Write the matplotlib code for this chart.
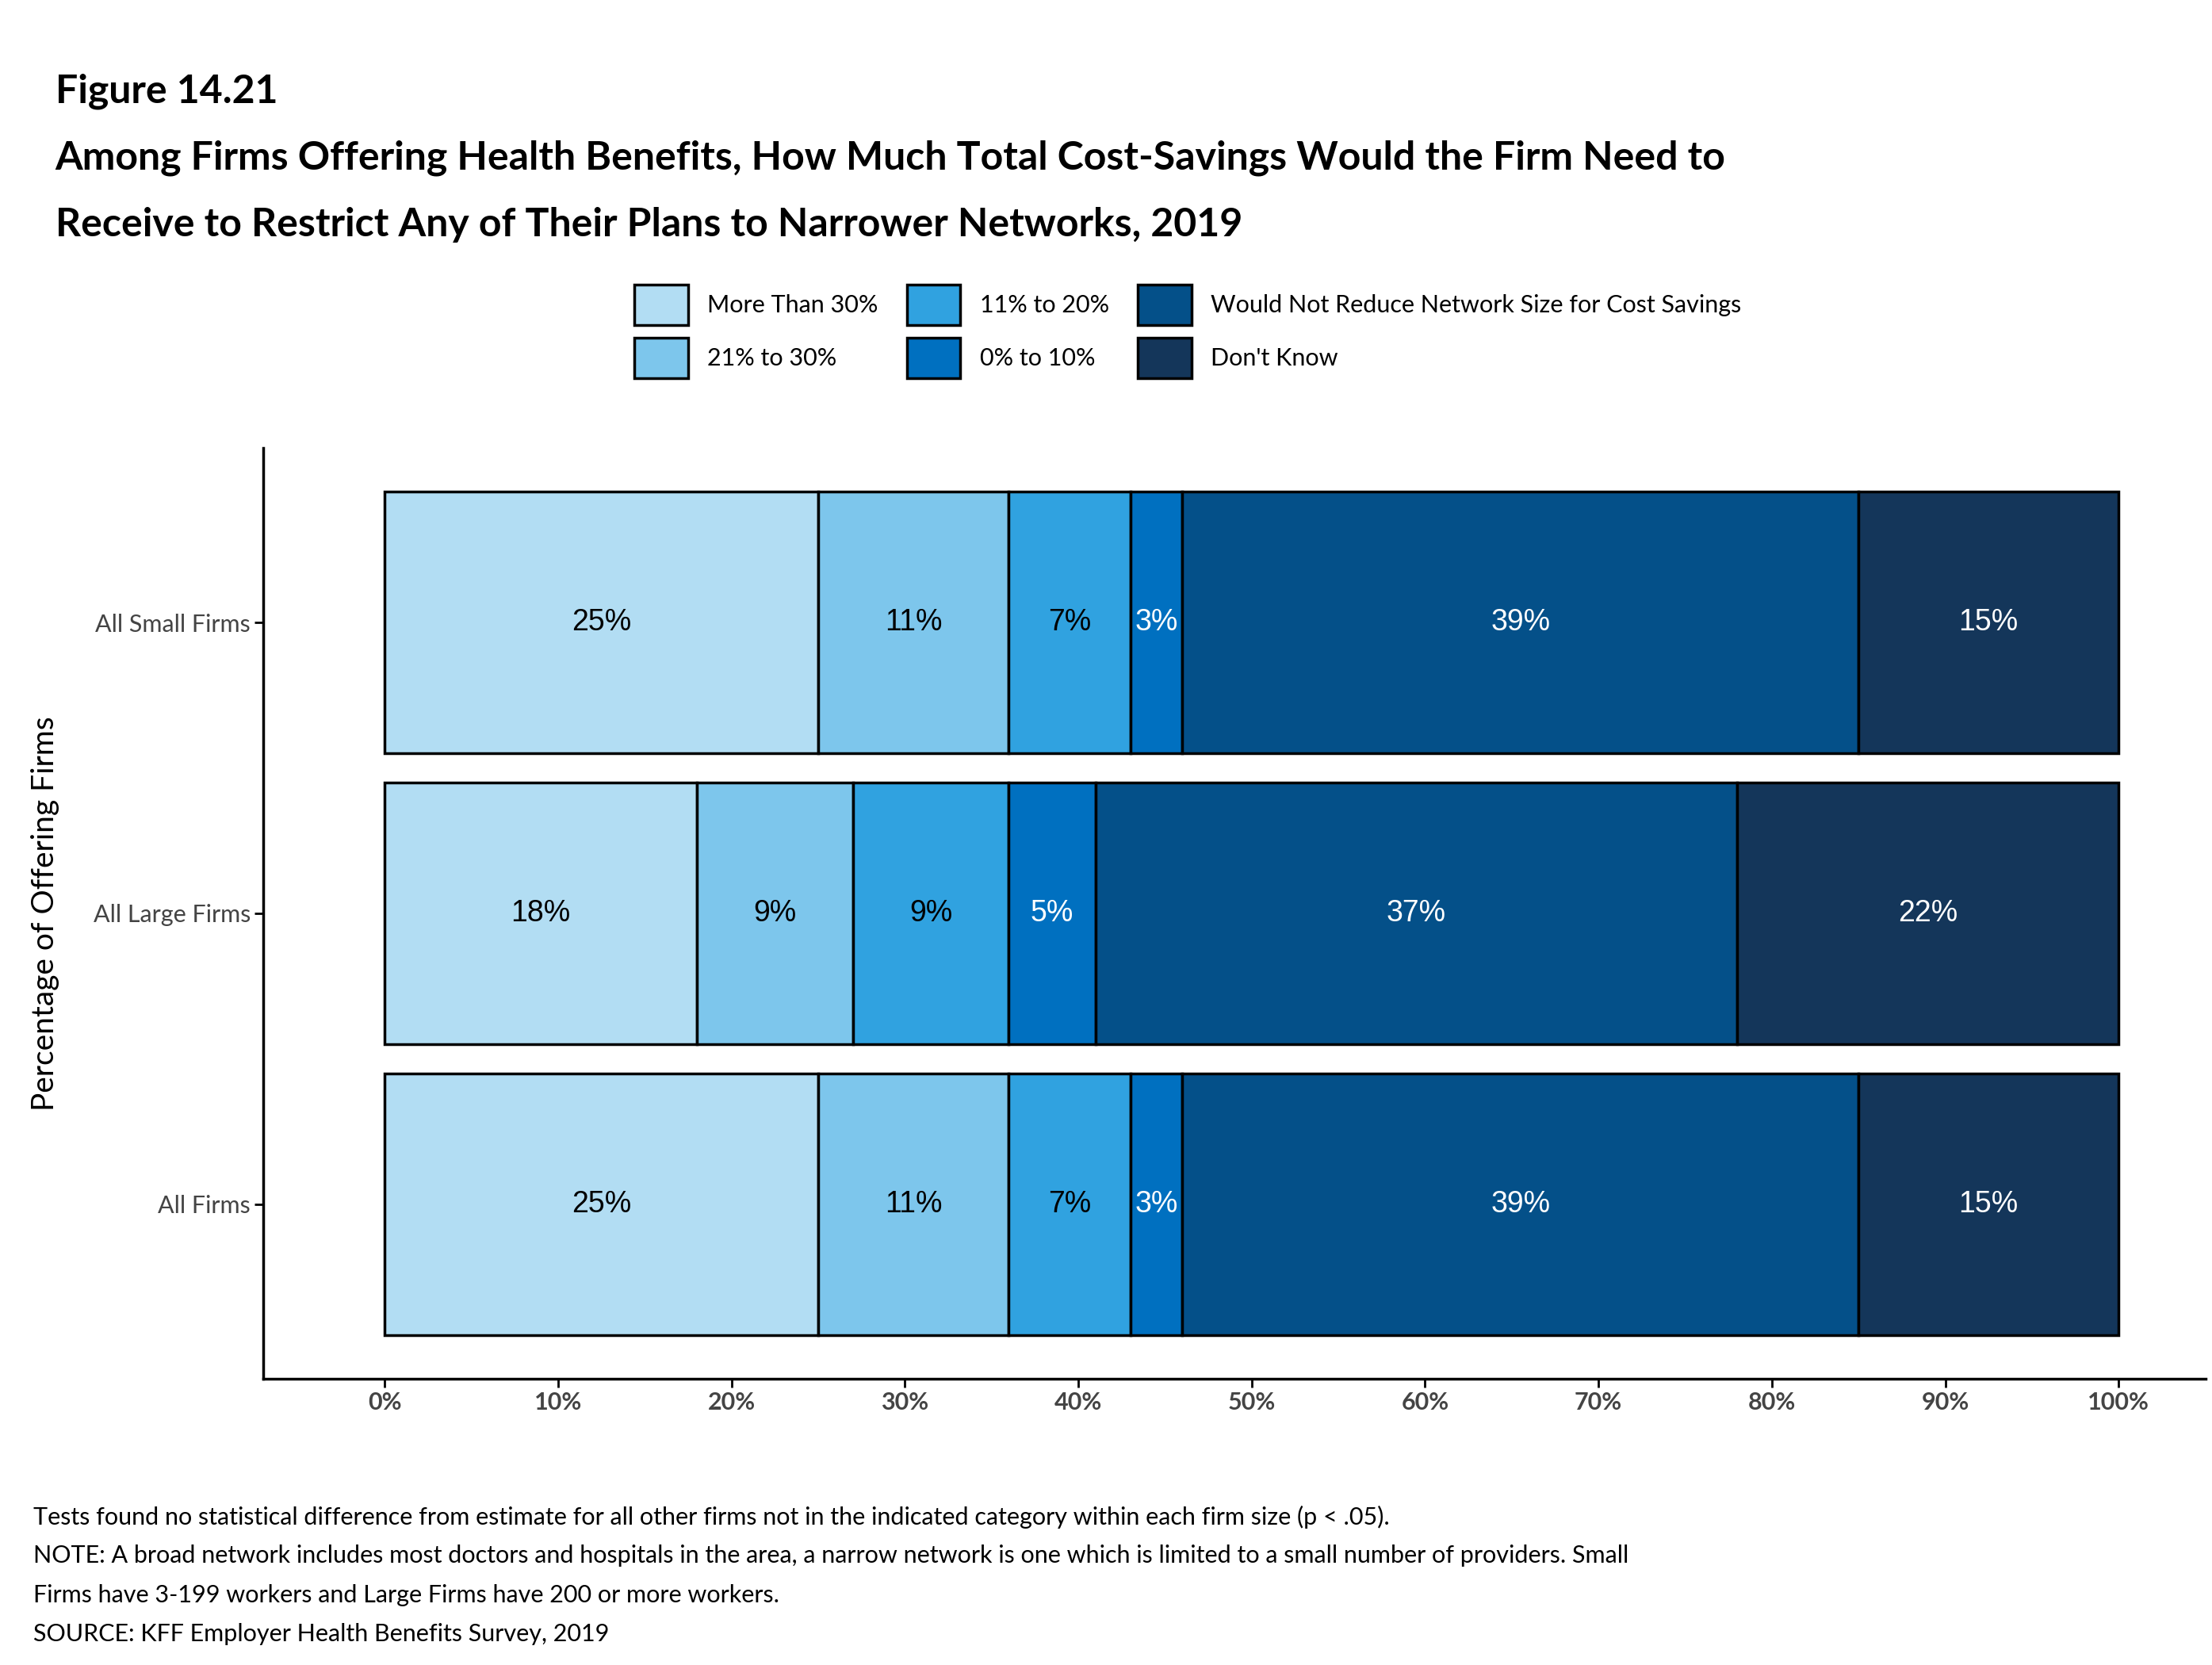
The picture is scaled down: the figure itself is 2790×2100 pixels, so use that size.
import numpy as np
import matplotlib.pyplot as plt
from matplotlib.patches import Patch

plt.rcParams['font.family'] = ['Lato', 'DejaVu Sans']

groups = ['All Firms', 'All Large Firms', 'All Small Firms']
series = ['More Than 30%', '21% to 30%', '11% to 20%', '0% to 10%',
          'Would Not Reduce Network Size for Cost Savings', "Don't Know"]
values = {
    'More Than 30%': [25, 18, 25],
    '21% to 30%': [11, 9, 11],
    '11% to 20%': [7, 9, 7],
    '0% to 10%': [3, 5, 3],
    'Would Not Reduce Network Size for Cost Savings': [39, 37, 39],
    "Don't Know": [15, 22, 15],
}
colors = ['#B2DDF3', '#7DC6EC', '#30A2E0', '#0070C0', '#045089', '#14365A']
text_colors = ['black', 'black', 'black', 'white', 'white', 'white']

fig = plt.figure(figsize=(27.9, 21), dpi=100)
ax = fig.add_axes([0.119, 0.172, 0.878, 0.559])

y = np.arange(len(groups))
left = np.zeros(len(groups))
for s, c, tc in zip(series, colors, text_colors):
    v = np.array(values[s], dtype=float)
    ax.barh(y, v, left=left, height=0.9, color=c, edgecolor='black', linewidth=2.5)
    for yi, vi, li in zip(y, v, left):
        ax.text(li + vi / 2, yi, f'{vi:.0f}%', ha='center', va='center',
                color=tc, fontsize=27, family=['Liberation Sans'])
    left += v

ax.set_xlim(-7, 105)
ax.set_ylim(-0.6, 2.6)
ax.set_yticks(y)
ax.set_yticklabels(groups, fontsize=22, color='#444444')
ax.set_xticks(np.arange(0, 101, 10))
ax.set_xticklabels([f'{t}%' for t in range(0, 101, 10)], fontsize=22,
                   fontweight='bold', color='#444444')
ax.tick_params(length=8, width=2)
for sp in ['top', 'right']:
    ax.spines[sp].set_visible(False)
for sp in ['left', 'bottom']:
    ax.spines[sp].set_linewidth(2.5)
ax.set_ylabel('Percentage of Offering Firms', fontsize=28, labelpad=12)
ax.yaxis.set_label_coords(-0.105, 0.5)

handles = [Patch(facecolor=c, edgecolor='black', linewidth=2.5) for c in colors]
fig.legend(handles, series, ncol=3, loc='center left',
           bbox_to_anchor=(0.277, 0.801), frameon=False, fontsize=22,
           handlelength=2.2, handleheight=2.2, columnspacing=1.2,
           labelspacing=0.5)

fig.text(0.025, 0.945, 'Figure 14.21', fontsize=36, fontweight='bold', va='center')
fig.text(0.025, 0.905, 'Among Firms Offering Health Benefits, How Much Total Cost-Savings Would the Firm Need to',
         fontsize=36, fontweight='bold', va='center')
fig.text(0.025, 0.865, 'Receive to Restrict Any of Their Plans to Narrower Networks, 2019',
         fontsize=36, fontweight='bold', va='center')

notes = ['Tests found no statistical difference from estimate for all other firms not in the indicated category within each firm size (p < .05).',
         'NOTE: A broad network includes most doctors and hospitals in the area, a narrow network is one which is limited to a small number of providers. Small',
         'Firms have 3-199 workers and Large Firms have 200 or more workers.',
         'SOURCE: KFF Employer Health Benefits Survey, 2019']
for i, n in enumerate(notes):
    fig.text(0.015, 0.089 - i * 0.0235, n, fontsize=22, va='center')

fig.savefig('out.png', dpi=100)
